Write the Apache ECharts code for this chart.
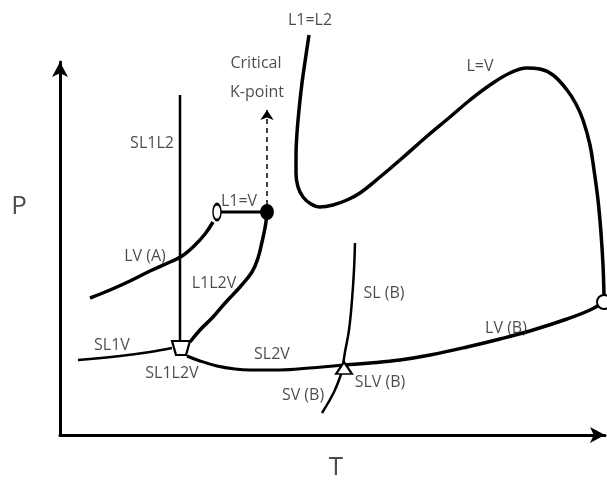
<!DOCTYPE html>
<html>
<head>
<meta charset="utf-8">
<script src="https://cdn.jsdelivr.net/npm/echarts@6/dist/echarts.min.js"></script>
<style>
  html, body { margin: 0; padding: 0; background: #fff; }
  #chart { width: 607px; height: 480px; }
</style>
</head>
<body>
<div id="chart"></div>
<script>
// Schematic P–T phase diagram of a binary system (arbitrary units: T across, P up)

// Phase boundary curves, [T, P]
const lvA     = [[30,137],[50,145],[70,154],[90,164],[110,173],[122,179],[135,190],[145,201],[153,213]];
const l1eqV   = [[157,223],[207,223]];
const l1l2v   = [[207,221],[205,207],[202,193],[198,177],[192,163],[180,148],[166,133],[153,118],[140,105],[130,93]];
const sl1l2   = [[120,340],[120,94]];
const sl1v    = [[18,75],[60,79],[90,83],[112,87]];
const sl2v    = [[127,79],[140,74],[157,69],[175,66],[190,65],[220,65],[250,67],[283,70]];
const lvB     = [[283,70],[310,72],[340,75],[370,80],[407,88],[440,96],[473,105],[507,116],[530,125],[544,133]];
const slB     = [[295,192],[294,165],[292,135],[289,105],[285,83],[283,70]];
const svB     = [[262,22],[268,32],[274,43],[279,55],[283,67]];
const critical = [[249,400],[246,380],[242,352],[239,325],[237,302],[236,280],[236,262],[238,248],[243,238],
                  [251,231],[260,228],[273,230],[287,235],[300,242],[320,258],[340,275],[365,297],[390,318],
                  [410,335],[430,350],[450,362],[467,367],[480,366],[493,360],[507,345],[516,331],[523,315],
                  [530,290],[534,265],[538,235],[541,202],[543,170],[544,140]];
const kArrow  = [[207,230],[207,325]];

// Special points
const ellipsePt   = [157,223];   // L1=V end (open)
const kPoint      = [207,223];   // critical K-point (filled)
const quadPt      = [121,87];    // SL1L2V quadruple point
const triplePtB   = [284,67];    // SLV (B) triple point
const critPtB     = [544,133];   // critical point of B

// Curve labels, [T, P, text]
const labels = [
  [250,415,'L1=L2'],
  [420,369,'L=V'],
  [196,372,'Critical'],
  [197,343,'K-point'],
  [92,292,'SL1L2'],
  [179,234,'L1=V'],
  [85,179,'LV (A)'],
  [154,152,'L1L2V'],
  [52,90,'SL1V'],
  [112,62,'SL1L2V'],
  [212,81,'SL2V'],
  [243,40,'SV (B)'],
  [324,142,'SL (B)'],
  [320,53,'SLV (B)'],
  [446,107,'LV (B)']
];
// Axis titles, [T, P, text]
const axisTitles = [
  [-41,228,'P'],
  [276,-33,'T']
];

const FONT = 'Open Sans';
const ink = '#000';
const textInk = '#1e1e1e';

function curve(data, width) {
  return {
    type: 'line', data: data, smooth: 0.4, symbol: 'none', clip: false,
    lineStyle: { color: ink, width: width }, z: 2, silent: true
  };
}
function point(pt, symbol, size, fill) {
  return {
    type: 'scatter', data: [pt], symbol: symbol, symbolSize: size, clip: false,
    itemStyle: { color: fill, borderColor: ink, borderWidth: 2, opacity: 1 }, z: 5, silent: true
  };
}
function textLayer(rows, size) {
  return {
    type: 'scatter', silent: true, clip: false, symbolSize: 0, z: 6,
    data: rows.map(d => ({ value: [d[0], d[1]], name: d[2] })),
    label: {
      show: true, position: 'inside', formatter: p => p.name,
      fontFamily: FONT, fontSize: size, color: textInk
    }
  };
}

const chart = echarts.init(document.getElementById('chart'));
chart.setOption({
  animation: false,
  backgroundColor: '#fff',
  grid: { left: 60, right: 2, top: 62, bottom: 45 },
  xAxis: {
    type: 'value', min: 0, max: 545,
    axisLine: { lineStyle: { color: ink, width: 3 }, symbol: ['none', 'arrow'], symbolSize: [12, 15] },
    axisTick: { show: false }, axisLabel: { show: false }, splitLine: { show: false }
  },
  yAxis: {
    type: 'value', min: 0, max: 373,
    axisLine: { lineStyle: { color: ink, width: 3 }, symbol: ['none', 'arrow'], symbolSize: [12, 15] },
    axisTick: { show: false }, axisLabel: { show: false }, splitLine: { show: false }
  },
  series: [
    curve(lvA, 3.5),
    curve(l1eqV, 3),
    curve(l1l2v, 3.5),
    curve(sl1l2, 2.5),
    curve(sl1v, 2.5),
    curve(sl2v, 3),
    curve(lvB, 3.5),
    curve(slB, 2.5),
    curve(svB, 2.5),
    curve(critical, 3.5),
    {
      type: 'lines', coordinateSystem: 'cartesian2d', polyline: false, silent: true,
      data: [{ coords: kArrow }],
      symbol: ['none', 'arrow'], symbolSize: 10,
      lineStyle: { color: ink, width: 1.5, type: [5, 4], opacity: 1 }, z: 2
    },
    point(ellipsePt, 'circle', [8, 16], '#fff'),
    point(kPoint, 'circle', [12, 14], ink),
    point(quadPt, 'path://M0,0 L18,0 L14,14 L4,14 Z', [18, 14], '#fff'),
    point(triplePtB, 'triangle', [16, 12], '#fff'),
    point(critPtB, 'circle', 14, '#fff'),
    textLayer(labels, 16),
    textLayer(axisTitles, 26)
  ]
});
</script>
</body>
</html>
